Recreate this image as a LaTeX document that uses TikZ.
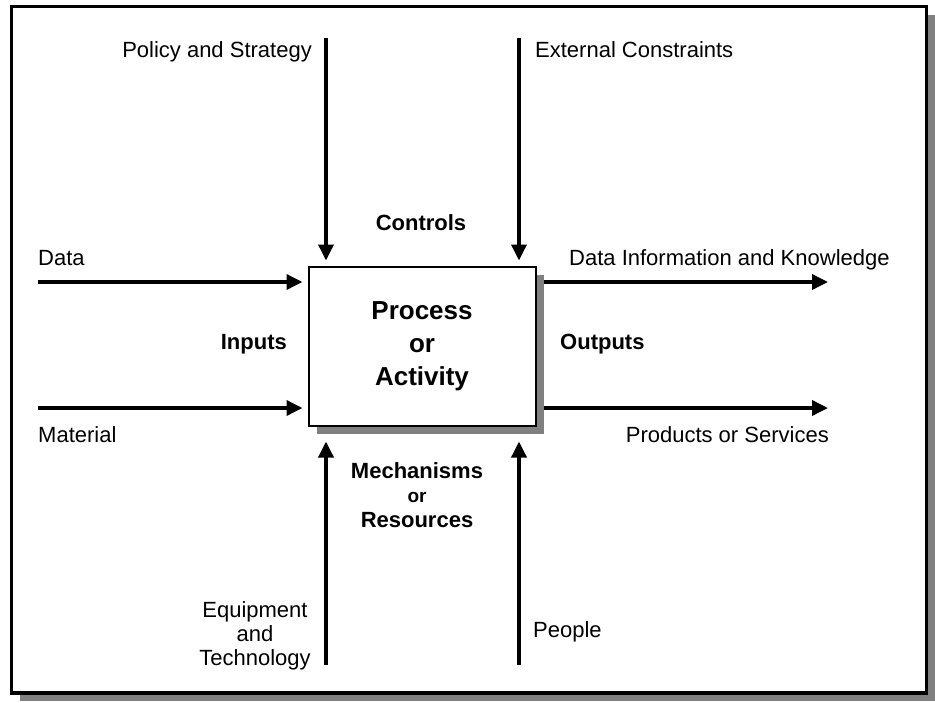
\documentclass[tikz,border=0pt]{standalone}
\usepackage{fontspec}
\setmainfont{Liberation Sans}
\usetikzlibrary{arrows.meta,shadows}
\begin{document}
\begin{tikzpicture}[x=1pt,y=-1pt,
  flow/.style={line width=3.5pt,-{Triangle[length=16pt,width=15pt]}},
  grayshadow/.style={drop shadow={shadow xshift=#1,shadow yshift=-#1,fill=black!50,opacity=1}},
  lbl/.style={inner sep=0pt,font=\fontsize{22}{24}\selectfont},
  bold/.style={inner sep=0pt,font=\fontsize{22}{24}\selectfont\bfseries}]
\useasboundingbox (0,0) rectangle (935,702);
\draw[line width=3.5pt,fill=white,grayshadow=8pt] (11.5,6.5) rectangle (926.5,693);
\node[draw,line width=2pt,fill=white,grayshadow=8.5pt,minimum width=227pt,minimum height=159pt,
  align=center,font=\fontsize{26}{33}\selectfont\bfseries] (proc) at (422,346) {Process\\or\\Activity};
\coordinate (dataS) at (38,282);
\coordinate (matS) at (38,408);
\coordinate (infoE) at (828,282);
\coordinate (prodE) at (828,408);
\coordinate (polS) at (326,38);
\coordinate (extS) at (519,38);
\coordinate (eqS) at (326,665);
\coordinate (peoS) at (519,665);
\draw[flow,shorten >=5pt] (dataS) -- (dataS -| proc.west);
\draw[flow,shorten >=5pt] (matS) -- (matS -| proc.west);
\draw[flow,shorten <=7pt] (infoE -| proc.east) -- (infoE);
\draw[flow,shorten <=7pt] (prodE -| proc.east) -- (prodE);
\draw[flow,shorten >=5pt] (polS) -- (polS |- proc.north);
\draw[flow,shorten >=5pt] (extS) -- (extS |- proc.north);
\draw[flow,shorten >=15pt] (eqS) -- (eqS |- proc.south);
\draw[flow,shorten >=15pt] (peoS) -- (peoS |- proc.south);
\node[lbl,anchor=base east] (pol) at (312,57) {Policy and Strategy};
\node[lbl,anchor=base west] (ext) at (535,57) {External Constraints};
\node[bold,anchor=base] (ctl) at (421,230) {Controls};
\node[lbl,anchor=base west] (data) at (38,265) {Data};
\node[lbl,anchor=base west] (info) at (569,265) {Data Information and Knowledge};
\node[bold,anchor=base east] (inp) at (287,349) {Inputs};
\node[bold,anchor=base west] (outp) at (560,349) {Outputs};
\node[lbl,anchor=base west] (mat) at (38,442) {Material};
\node[lbl,anchor=base east] (prod) at (829,442) {Products or Services};
\node[bold,anchor=base] (mech) at (417,478) {Mechanisms};
\node[bold,font=\fontsize{19}{20}\selectfont\bfseries,anchor=base] (mechor) at (417,502) {or};
\node[bold,anchor=base] (res) at (417,527) {Resources};
\node[lbl,align=center,anchor=base] (eq) at (255,665) {Equipment\\and\\Technology};
\node[lbl,anchor=base west] (peo) at (533,637) {People};
\end{tikzpicture}
\end{document}
